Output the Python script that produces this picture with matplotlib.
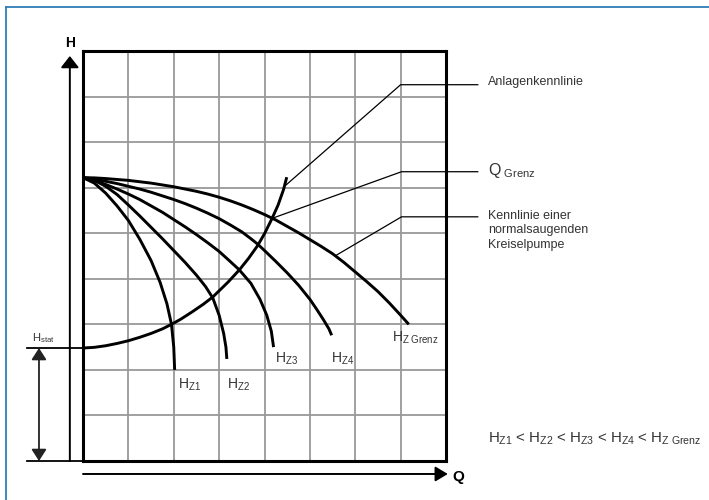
import matplotlib.pyplot as plt
from matplotlib.lines import Line2D

plt.rcParams['font.family'] = ['Liberation Sans', 'DejaVu Sans']
plt.rcParams['mathtext.fontset'] = 'custom'
plt.rcParams['mathtext.rm'] = 'Liberation Sans'
plt.rcParams['mathtext.it'] = 'Liberation Sans:italic'
plt.rcParams['mathtext.bf'] = 'Liberation Sans:bold'

hz1_q = [0, 0.25, 0.5, 0.75, 1.0, 1.25, 1.5, 1.7, 1.85, 1.95, 2.0, 2.02]
hz1_h = [6.22, 6.1, 5.88, 5.6, 5.28, 4.87, 4.4, 3.92, 3.45, 3.0, 2.5, 2.0]

hz2_q = [0, 0.25, 0.5, 0.75, 1.0, 1.25, 1.5, 1.75, 2.0, 2.25, 2.5, 2.7, 2.86, 3.0, 3.1, 3.15, 3.17]
hz2_h = [6.22, 6.16, 6.03, 5.85, 5.62, 5.38, 5.13, 4.88, 4.62, 4.36, 4.08, 3.83, 3.58, 3.2, 2.8, 2.5, 2.24]

hz3_q = [0, 0.25, 0.5, 0.75, 1.0, 1.25, 1.5, 1.75, 2.0, 2.25, 2.5, 2.75, 3.0, 3.2, 3.44,
         3.7, 3.9, 4.05, 4.15, 4.2]
hz3_h = [6.22, 6.16, 6.07, 5.97, 5.86, 5.74, 5.6, 5.46, 5.3, 5.14, 4.97, 4.79, 4.6, 4.42, 4.2,
         3.9, 3.55, 3.2, 2.85, 2.5]

hz4_q = [0, 0.25, 0.5, 0.75, 1.0, 1.25, 1.5, 1.75, 2.0, 2.25, 2.5, 2.75, 3.0, 3.25, 3.5, 3.7,
         3.85, 4.0, 4.25, 4.5, 4.75, 5.0, 5.15, 5.3, 5.42, 5.48]
hz4_h = [6.22, 6.19, 6.14, 6.09, 6.03, 5.97, 5.9, 5.82, 5.74, 5.65, 5.55, 5.44, 5.32, 5.18, 5.03, 4.88,
         4.76, 4.62, 4.38, 4.13, 3.86, 3.55, 3.33, 3.1, 2.9, 2.76]

hzg_q = [0, 0.25, 0.5, 0.75, 1.0, 1.25, 1.5, 1.75, 2.0, 2.25, 2.5, 2.75, 3.0, 3.25, 3.5, 3.75,
         4.0, 4.25, 4.5, 4.75, 5.0, 5.25, 5.5, 5.75, 6.0, 6.25, 6.5, 6.75, 7.0, 7.18]
hzg_h = [6.22, 6.215, 6.2, 6.18, 6.16, 6.13, 6.1, 6.06, 6.02, 5.97, 5.92, 5.86, 5.79, 5.71, 5.62, 5.52,
         5.41, 5.29, 5.15, 5.01, 4.86, 4.71, 4.55, 4.36, 4.15, 3.94, 3.72, 3.47, 3.2, 3.0]

# Anlagenkennlinie
anl_q = [0, 0.25, 0.5, 0.75, 1.0, 1.25, 1.5, 1.75, 1.95, 2.15, 2.4, 2.65, 2.86, 3.2, 3.45, 3.65,
         3.85, 4.0, 4.16, 4.3, 4.42, 4.49]
anl_h = [2.48, 2.495, 2.53, 2.58, 2.64, 2.715, 2.8, 2.9, 3.0, 3.11, 3.27, 3.44, 3.6, 3.93, 4.2, 4.45,
         4.73, 4.99, 5.31, 5.62, 5.96, 6.23]

h_stat = 2.48

pumpen = [(hz1_q, hz1_h), (hz2_q, hz2_h), (hz3_q, hz3_h), (hz4_q, hz4_h), (hzg_q, hzg_h)]
labels = [r'H$_{\mathrm{Z1}}$', r'H$_{\mathrm{Z2}}$', r'H$_{\mathrm{Z3}}$', r'H$_{\mathrm{Z4}}$',
          r'H$_{\mathrm{Z\ Grenz}}$']
label_pos = [(2.09, 1.60), (3.17, 1.60), (4.23, 2.15), (5.47, 2.15), (6.81, 2.61)]

txt = '#333333'

fig = plt.figure(figsize=(7.09, 5.0), dpi=100)
ax = fig.add_axes([83 / 709, 39 / 500, 363 / 709, 410 / 500])
ax.set_xlim(0, 8)
ax.set_ylim(0, 9)
ax.set_xticks(range(9))
ax.set_yticks(range(10))
ax.tick_params(length=0, labelbottom=False, labelleft=False)
ax.grid(True, color='#999999', lw=1.3)
for s in ax.spines.values():
    s.set_linewidth(2.2)
    s.set_color('black')

# Kurven
for (q, h) in pumpen:
    ax.plot(q, h, color='black', lw=2.1, solid_capstyle='butt', solid_joinstyle='round', zorder=3)
ax.plot(anl_q, anl_h, color='black', lw=2.1, solid_capstyle='butt', solid_joinstyle='round',
        zorder=3, clip_on=False)

for lab, (x, y) in zip(labels, label_pos):
    ax.text(x, y, lab, fontsize=10, color=txt, ha='left', va='baseline')

# Achsen mit Pfeilen
ax.annotate('', xy=(-0.29, 8.89), xytext=(-0.29, 0), annotation_clip=False,
            arrowprops=dict(arrowstyle='-|>,head_length=0.7,head_width=0.55', mutation_scale=10,
                            color='black', lw=1.4, shrinkA=0, shrinkB=0))
ax.text(-0.29, 9.17, 'H', fontsize=10, fontweight='bold', ha='center', va='center')
ax.annotate('', xy=(8.04, -0.285), xytext=(0, -0.285), annotation_clip=False,
            arrowprops=dict(arrowstyle='-|>,head_length=0.75,head_width=0.45', mutation_scale=10,
                            color='black', lw=1.4, shrinkA=0, shrinkB=0))
ax.text(8.27, -0.36, 'Q', fontsize=11, fontweight='bold', ha='center', va='center')

# H_stat
ax.plot([-1.23, 0], [h_stat, h_stat], color='black', lw=1.3, clip_on=False)
ax.plot([-1.23, 0], [0, 0], color='black', lw=1.3, clip_on=False)
ax.annotate('', xy=(-0.97, h_stat), xytext=(-0.97, 0), annotation_clip=False,
            arrowprops=dict(arrowstyle='<|-|>,head_length=0.7,head_width=0.45', mutation_scale=10,
                            color='#222222', lw=1.3, shrinkA=0, shrinkB=0))
ax.text(-1.12, 2.62, r'H$_{\mathrm{stat}}$', fontsize=8, color=txt, ha='left', va='baseline')

# Hinweislinien
ax.plot([4.43, 7.0, 8.7], [6.02, 8.26, 8.26], color='black', lw=0.9, clip_on=False)
ax.plot([4.15, 7.02, 8.7], [5.32, 6.35, 6.35], color='black', lw=0.9, clip_on=False)
ax.plot([5.57, 7.02, 8.7], [4.51, 5.36, 5.36], color='black', lw=0.9, clip_on=False)

ax.text(8.93, 8.31, 'Anlagenkennlinie', fontsize=9, color=txt, ha='left', va='center')
ax.text(8.93, 6.37, r'Q$_{\ \mathrm{Grenz}}$', fontsize=11.5, color=txt, ha='left', va='center')
for y, line in zip([5.38, 5.06, 4.74], ['Kennlinie einer', 'normalsaugenden', 'Kreiselpumpe']):
    ax.text(8.93, y, line, fontsize=9, color=txt, ha='left', va='center')

ax.text(8.93, 0.40,
        r'H$_{\mathrm{Z1}}$ < H$_{\mathrm{Z2}}$ < H$_{\mathrm{Z3}}$ < H$_{\mathrm{Z4}}$ < H$_{\mathrm{Z\ Grenz}}$',
        fontsize=10.8, color=txt, ha='left', va='baseline')

# blauer Rahmen
fig.add_artist(Line2D([6 / 709, 1], [1 - 6.5 / 500, 1 - 6.5 / 500], color='#2f7fb5', lw=1.3))
fig.add_artist(Line2D([6 / 709, 6 / 709], [0, 1 - 6.5 / 500], color='#2f7fb5', lw=1.3))

fig.savefig('out.png', dpi=100)
